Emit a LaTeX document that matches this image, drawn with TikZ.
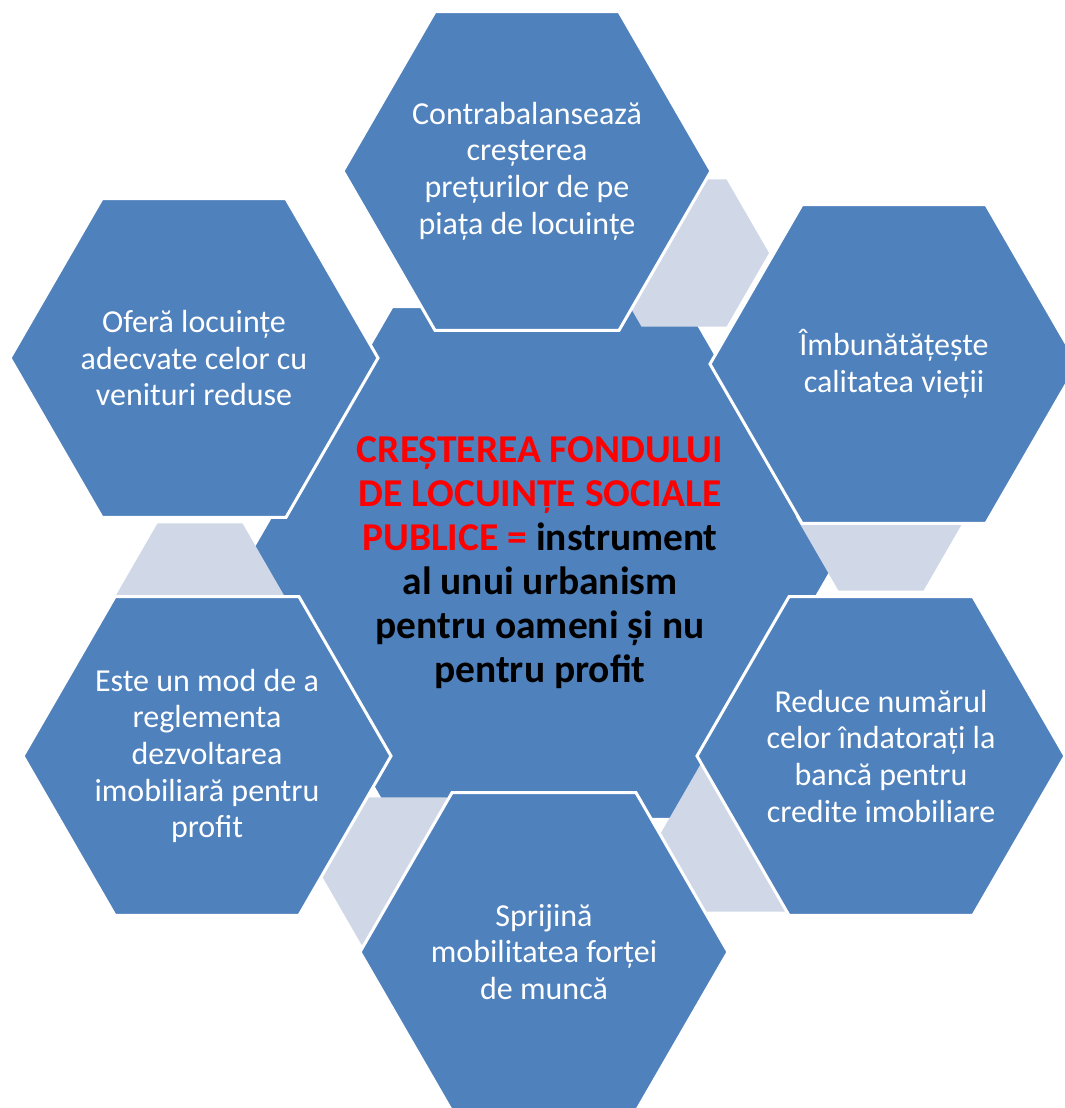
\documentclass[tikz,border=0pt]{standalone}
\usepackage{fontspec}
\setmainfont{Carlito}
\usetikzlibrary{shapes.geometric}
\definecolor{hexblue}{RGB}{79,129,189}
\definecolor{hexlight}{RGB}{208,216,232}
\definecolor{hexred}{RGB}{255,0,0}

\begin{document}
\begin{tikzpicture}[x=0.75pt,y=-0.75pt,
  hexagon/.style={regular polygon, regular polygon sides=6, inner sep=0pt, outer sep=0pt},
  outerhex/.style={hexagon, minimum size=276pt, fill=hexblue, draw=white, line width=2.25pt},
  centrehex/.style={hexagon, minimum size=444pt, fill=hexblue, draw=white, line width=2.25pt},
  linkhex/.style={hexagon, minimum size=127.5pt, fill=hexlight},
  outertext/.style={text=white, font=\fontsize{24}{27.5}\selectfont, align=center, inner sep=0pt},
  centretext/.style={font=\bfseries\fontsize{29.6}{33}\selectfont, align=center, inner sep=0pt},
]
\useasboundingbox (0,0) rectangle (1065,1108);
\clip (0,0) rectangle (1065,1108);

% central hexagon
\node[centrehex] (core) at (540,563) {};
\node[centretext] (coretext) at (core.center)
  {\textcolor{hexred}{CREȘTEREA FONDULUI}\\
   \textcolor{hexred}{DE LOCUINȚE SOCIALE}\\
   \textcolor{hexred}{PUBLICE =} instrument\\
   al unui urbanism\\
   pentru oameni și nu\\
   pentru profit};

% small linking hexagons between neighbouring items
\node[linkhex] (l12) at (684,253) {};
\node[linkhex] (l23) at (881,517) {};
\node[linkhex] (l34) at (743,838) {};
\node[linkhex] (l45) at (404,871) {};
\node[linkhex] (l56) at (200,597) {};

% outer hexagons
\node[outerhex] (h1) at (527,171) {};
\node[outerhex] (h2) at (894,364) {};
\node[outerhex] (h3) at (881,756) {};
\node[outerhex] (h4) at (544,952) {};
\node[outerhex] (h5) at (207,756) {};
\node[outerhex] (h6) at (194,358) {};

% their texts
\node[outertext] (t1) at (h1.center) {Contrabalansează\\creșterea\\prețurilor de pe\\piața de locuințe};
\node[outertext] (t2) at (h2.center) {Îmbunătățește\\calitatea vieții};
\node[outertext] (t3) at (h3.center) {Reduce numărul\\celor îndatorați la\\bancă pentru\\credite imobiliare};
\node[outertext] (t4) at (h4.center) {Sprijină\\mobilitatea forței\\de muncă};
\node[outertext] (t5) at (h5.center) {Este un mod de a\\reglementa\\dezvoltarea\\imobiliară pentru\\profit};
\node[outertext] (t6) at (h6.center) {Oferă locuințe\\adecvate celor cu\\venituri reduse};
\end{tikzpicture}
\end{document}
